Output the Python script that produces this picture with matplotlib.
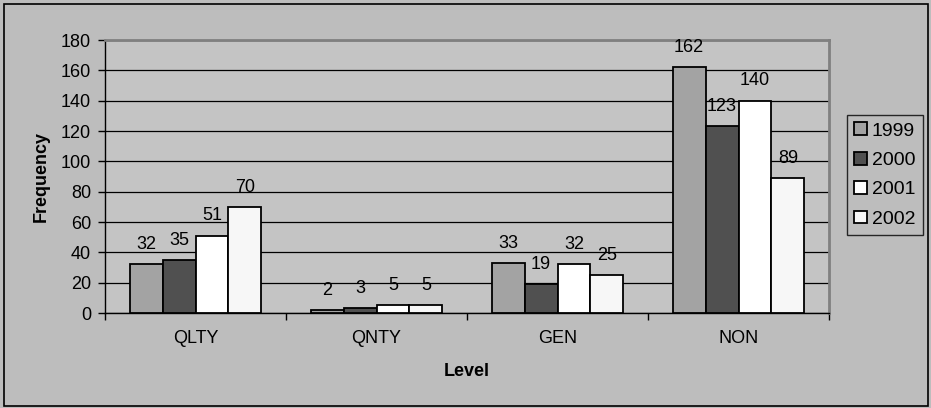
import matplotlib.pyplot as plt
import numpy as np

plt.rcParams['font.family'] = ['Liberation Sans', 'DejaVu Sans']

levels = ['QLTY', 'QNTY', 'GEN', 'NON']
years = ['1999', '2000', '2001', '2002']
freq_1999 = [32, 2, 33, 162]
freq_2000 = [35, 3, 19, 123]
freq_2001 = [51, 5, 32, 140]
freq_2002 = [70, 5, 25, 89]

series = [freq_1999, freq_2000, freq_2001, freq_2002]
colors = ['#a3a3a3', '#505050', '#ffffff', '#f7f7f7']

fig = plt.figure(figsize=(9.31, 4.08), dpi=100)
fig.patch.set_facecolor('#bdbdbd')

# outer chart frame
frame = plt.Rectangle((4 / 931, 2 / 408), 924 / 931, 402 / 408, transform=fig.transFigure,
                      fill=False, edgecolor='black', linewidth=1.2)
fig.add_artist(frame)

ax = fig.add_axes([105 / 931, 1 - 313 / 408, 724 / 931, 273 / 408])
ax.set_facecolor('#c4c4c4')

x = np.arange(len(levels))
w = 1 / 5.5
for i, (vals, col, yr) in enumerate(zip(series, colors, years)):
    pos = x - 1.5 * w + i * w
    ax.bar(pos, vals, width=w, color=col, edgecolor='black', linewidth=1.3,
           label=yr, zorder=3)
    for p, v in zip(pos, vals):
        ax.annotate(str(v), (p, v), xytext=(0, 11), textcoords='offset points',
                    ha='center', va='baseline', fontsize=13, zorder=4)

ax.set_xlim(-0.5, 3.5)
ax.set_ylim(0, 180)
ax.set_yticks(range(0, 181, 20))
ax.yaxis.grid(True, color='black', linewidth=0.9, zorder=0)
ax.set_axisbelow(True)

ax.set_xticks(x)
ax.set_xticklabels(levels, fontsize=13)
ax.set_xticks(np.arange(-0.5, 4, 1), minor=True)
ax.tick_params(axis='x', which='major', length=0, pad=12)
ax.tick_params(axis='x', which='minor', length=5, width=1, direction='out')
ax.tick_params(axis='y', labelsize=13, length=5, width=1, direction='out', pad=5)

for side in ['left', 'bottom']:
    ax.spines[side].set_color('black')
    ax.spines[side].set_linewidth(1)
for side in ['top', 'right']:
    ax.spines[side].set_color('#808080')
    ax.spines[side].set_linewidth(2)

ax.set_xlabel('Level', fontsize=13, fontweight='bold', labelpad=12)
ax.set_ylabel('Frequency', fontsize=13, fontweight='bold', labelpad=8)

leg = fig.legend(loc='upper left', bbox_to_anchor=(847 / 931, 1 - 115 / 408),
                 fontsize=14, frameon=True, fancybox=False, handlelength=0.65,
                 handleheight=0.65, handletextpad=0.25, labelspacing=0.62,
                 borderpad=0.38, borderaxespad=0)
leg.get_frame().set_facecolor('#bdbdbd')
leg.get_frame().set_edgecolor('black')
leg.get_frame().set_linewidth(1)

fig.savefig('out.png', dpi=100, facecolor=fig.get_facecolor())
